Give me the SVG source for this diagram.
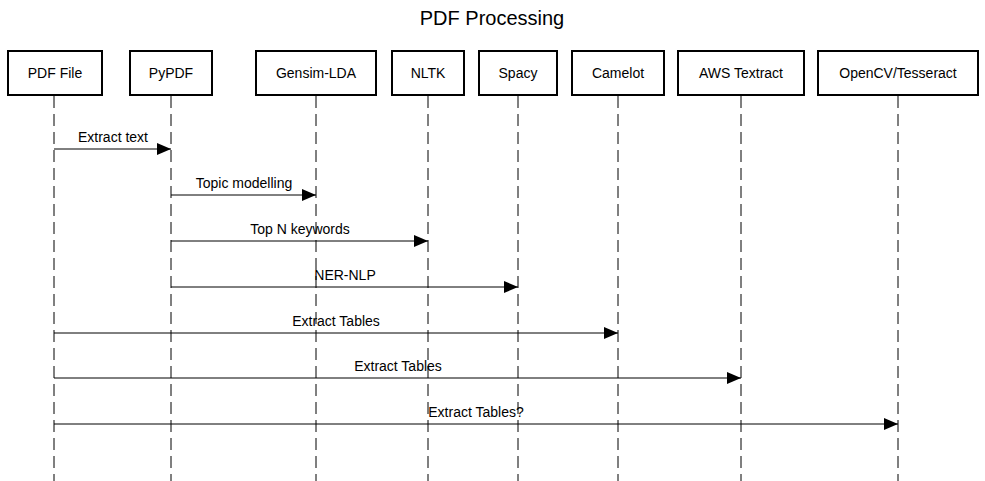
<svg xmlns="http://www.w3.org/2000/svg" width="985" height="481" viewBox="0 0 985 481">
<style>
.box{fill:#fff;stroke:#000;stroke-width:2}
.life{stroke:#000;stroke-width:1;stroke-dasharray:12 6;fill:none}
.msg{stroke:#000;stroke-width:1;fill:none;marker-end:url(#arr)}
text{font-family:"Liberation Sans",Arial,sans-serif;font-size:14px;fill:#000;text-anchor:middle}
.title{font-size:20px}
</style>
<defs>
<marker id="arr" markerWidth="14" markerHeight="12" refX="14" refY="6" orient="auto" markerUnits="userSpaceOnUse">
<path d="M0,0 L14,6 L0,12 Z" fill="#000"/>
</marker>
</defs>
<rect width="985" height="481" fill="#fff"/>
<text class="title" x="492" y="25">PDF Processing</text>
<g id="node-pdffile"><line class="life" x1="54" y1="96" x2="54" y2="481"/><rect class="box" x="8" y="51" width="94" height="44"/><text x="55" y="78">PDF File</text></g>
<g id="node-pypdf"><line class="life" x1="171" y1="96" x2="171" y2="481"/><rect class="box" x="130" y="51" width="82" height="44"/><text x="171" y="78">PyPDF</text></g>
<g id="node-gensim"><line class="life" x1="316" y1="96" x2="316" y2="481"/><rect class="box" x="256" y="51" width="120" height="44"/><text x="316" y="78">Gensim-LDA</text></g>
<g id="node-nltk"><line class="life" x1="428" y1="96" x2="428" y2="481"/><rect class="box" x="392" y="51" width="72" height="44"/><text x="428" y="78">NLTK</text></g>
<g id="node-spacy"><line class="life" x1="518" y1="96" x2="518" y2="481"/><rect class="box" x="479" y="51" width="78" height="44"/><text x="518" y="78">Spacy</text></g>
<g id="node-camelot"><line class="life" x1="618" y1="96" x2="618" y2="481"/><rect class="box" x="572" y="51" width="92" height="44"/><text x="618" y="78">Camelot</text></g>
<g id="node-aws"><line class="life" x1="741" y1="96" x2="741" y2="481"/><rect class="box" x="678" y="51" width="126" height="44"/><text x="741" y="78">AWS Textract</text></g>
<g id="node-opencv"><line class="life" x1="898" y1="96" x2="898" y2="481"/><rect class="box" x="818" y="51" width="160" height="44"/><text x="898" y="78">OpenCV/Tesseract</text></g>
<g id="connectors">
<line class="msg" x1="54" y1="149" x2="171" y2="149"/><text x="113" y="142">Extract text</text>
<line class="msg" x1="171" y1="195" x2="316" y2="195"/><text x="244" y="188">Topic modelling</text>
<line class="msg" x1="171" y1="241" x2="428" y2="241"/><text x="300" y="234">Top N keywords</text>
<line class="msg" x1="171" y1="287" x2="518" y2="287"/><text x="345" y="280">NER-NLP</text>
<line class="msg" x1="54" y1="333" x2="618" y2="333"/><text x="336" y="326">Extract Tables</text>
<line class="msg" x1="54" y1="378" x2="741" y2="378"/><text x="398" y="371">Extract Tables</text>
<line class="msg" x1="54" y1="424" x2="898" y2="424"/><text x="476" y="417">Extract Tables?</text>
</g>
</svg>
